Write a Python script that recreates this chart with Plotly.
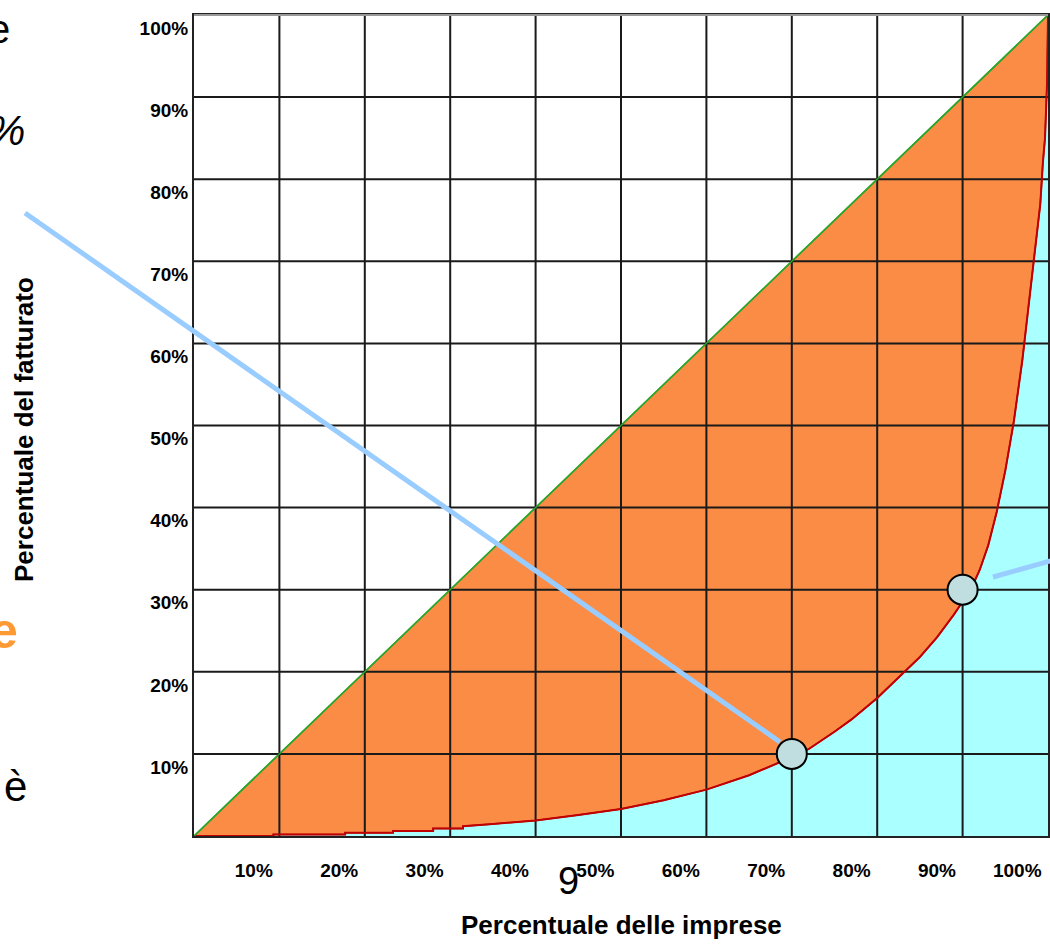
import plotly.graph_objects as go

# ---- data ----
grid_values = [10, 20, 30, 40, 50, 60, 70, 80, 90]
tick_values = [10, 20, 30, 40, 50, 60, 70, 80, 90, 100]
tick_labels = ["10%", "20%", "30%", "40%", "50%", "60%", "70%", "80%", "90%", "100%"]

# Lorenz curve: cumulative % of firms (x) vs cumulative % of turnover (y)
lorenz_x = [0, 9.3, 9.3, 17.7, 17.7, 23.3, 23.3, 28.0, 28.0, 31.5, 31.5,
            35, 40, 45, 50, 55, 60, 65, 70, 72, 75, 77, 80, 83, 85, 87, 89,
            91, 92, 93, 94, 95, 96, 97, 97.8, 98.5, 99.1, 99.4, 99.65, 99.9, 100]
lorenz_y = [0, 0, 0.18, 0.18, 0.4, 0.4, 0.6, 0.6, 0.9, 0.9, 1.2,
            1.45, 1.9, 2.55, 3.3, 4.35, 5.65, 7.4, 9.6, 10.6, 12.7, 14.2, 16.8, 19.8, 21.8, 24.2, 27.0,
            30.1, 32.4, 35.4, 39.5, 44.5, 50.5, 58.0, 65, 71, 77, 82, 85, 92, 100]

equality_x = [0, 100]
equality_y = [0, 100]

highlight_x = [70, 90]
highlight_y = [10, 30]

# ---- styling constants ----
FONT = "Liberation Sans, Arial, sans-serif"
W, H = 1050, 946
ML, MR, MT, MB = 194, 2, 15, 110
PW, PH = W - ML - MR, H - MT - MB


def px_x(p):
    return (p - ML) / PW


def px_y(p):
    return (H - MB - p) / PH


fig = go.Figure()

# cyan area under the Lorenz curve
fig.add_trace(go.Scatter(x=lorenz_x, y=lorenz_y, mode="lines", fill="tozeroy",
                         fillcolor="#AAFFFF", line=dict(color="#C00000", width=1.5),
                         hoverinfo="skip", showlegend=False))
# orange concentration area between equality line and curve
fig.add_trace(go.Scatter(x=equality_x, y=equality_y, mode="lines", fill="tonexty",
                         fillcolor="#FA8C46", line=dict(color="#2AA52A", width=1.5),
                         hoverinfo="skip", showlegend=False))

# grid lines drawn above the fills
gx, gy = [], []
for v in grid_values:
    gx += [v, v, None]
    gy += [0, 100, None]
    gx += [0, 100, None]
    gy += [v, v, None]
fig.add_trace(go.Scatter(x=gx, y=gy, mode="lines", line=dict(color="#1a1a1a", width=2),
                         hoverinfo="skip", showlegend=False))

# red curve line on top
fig.add_trace(go.Scatter(x=lorenz_x, y=lorenz_y, mode="lines",
                         line=dict(color="#C00000", width=2),
                         hoverinfo="skip", showlegend=False))
fig.add_trace(go.Scatter(x=equality_x, y=equality_y, mode="lines",
                         line=dict(color="#2AA52A", width=1.5),
                         hoverinfo="skip", showlegend=False))

# highlighted points
fig.add_trace(go.Scatter(x=highlight_x, y=highlight_y, mode="markers",
                         marker=dict(size=30, color="#C0DEE0", line=dict(color="black", width=2)),
                         cliponaxis=False, hoverinfo="skip", showlegend=False))

# light-blue pointer lines (decorations from the slide)
fig.add_shape(type="line", xref="paper", yref="paper",
              x0=px_x(25), y0=px_y(213), x1=px_x(780), y1=px_y(742),
              line=dict(color="#99CCFF", width=5), layer="above")
fig.add_shape(type="line", xref="paper", yref="paper",
              x0=px_x(993), y0=px_y(577), x1=px_x(1075), y1=px_y(554),
              line=dict(color="#99CCFF", width=5), layer="above")
# lighter top border of the plot frame
fig.add_shape(type="line", xref="paper", yref="paper", x0=0, y0=1, x1=1, y1=1,
              line=dict(color="#999999", width=2), layer="above")

x_tickvals = [v - 3.0 - 0.6 * (len(t) - 3) for v, t in zip(tick_values, tick_labels)]

fig.update_xaxes(range=[0, 100], showgrid=False, zeroline=False,
                 tickmode="array", tickvals=x_tickvals, ticktext=tick_labels,
                 ticks="outside", ticklen=16, tickcolor="rgba(0,0,0,0)",
                 tickfont=dict(family=FONT, size=19, color="black", weight="bold"),
                 showline=True, linecolor="#222", linewidth=2, mirror=True,
                 layer="above traces", fixedrange=True)
fig.update_yaxes(range=[0, 100], showgrid=False, zeroline=False,
                 tickmode="array", tickvals=[v - 1.6 for v in tick_values], ticktext=tick_labels,
                 ticks="", tickfont=dict(family=FONT, size=19, color="black", weight="bold"),
                 showline=True, linecolor="#222", linewidth=2, mirror=True,
                 layer="above traces", fixedrange=True)

annotations = [
    dict(text="<b>Percentuale delle imprese</b>", x=0.5, y=px_y(925), xref="paper", yref="paper",
         xanchor="center", yanchor="middle", showarrow=False,
         font=dict(family=FONT, size=26, color="black")),
    dict(text="<b>Percentuale del fatturato</b>", x=px_x(24), y=px_y(430), xref="paper", yref="paper",
         xanchor="center", yanchor="middle", textangle=-90, showarrow=False,
         font=dict(family=FONT, size=26, color="black")),
    dict(text="9", x=px_x(568), y=px_y(881), xref="paper", yref="paper",
         xanchor="center", yanchor="middle", showarrow=False,
         font=dict(family=FONT, size=38, color="black")),
    dict(text="e", x=px_x(12), y=px_y(29), xref="paper", yref="paper",
         xanchor="right", yanchor="middle", showarrow=False,
         font=dict(family=FONT, size=40, color="black")),
    dict(text="<i>%</i>", x=px_x(27), y=px_y(131), xref="paper", yref="paper",
         xanchor="right", yanchor="middle", showarrow=False,
         font=dict(family=FONT, size=42, color="black")),
    dict(text="<b>e</b>", x=px_x(20), y=px_y(631), xref="paper", yref="paper",
         xanchor="right", yanchor="middle", showarrow=False,
         font=dict(family=FONT, size=50, color="#FF9933")),
    dict(text="è", x=px_x(29), y=px_y(786), xref="paper", yref="paper",
         xanchor="right", yanchor="middle", showarrow=False,
         font=dict(family=FONT, size=42, color="black")),
]

fig.update_layout(width=W, height=H, margin=dict(l=ML, r=MR, t=MT, b=MB, autoexpand=False),
                  paper_bgcolor="white", plot_bgcolor="white",
                  showlegend=False, annotations=annotations)

fig.write_html("out.html", config={"displayModeBar": False},
               post_script="document.body.style.margin='0';")
